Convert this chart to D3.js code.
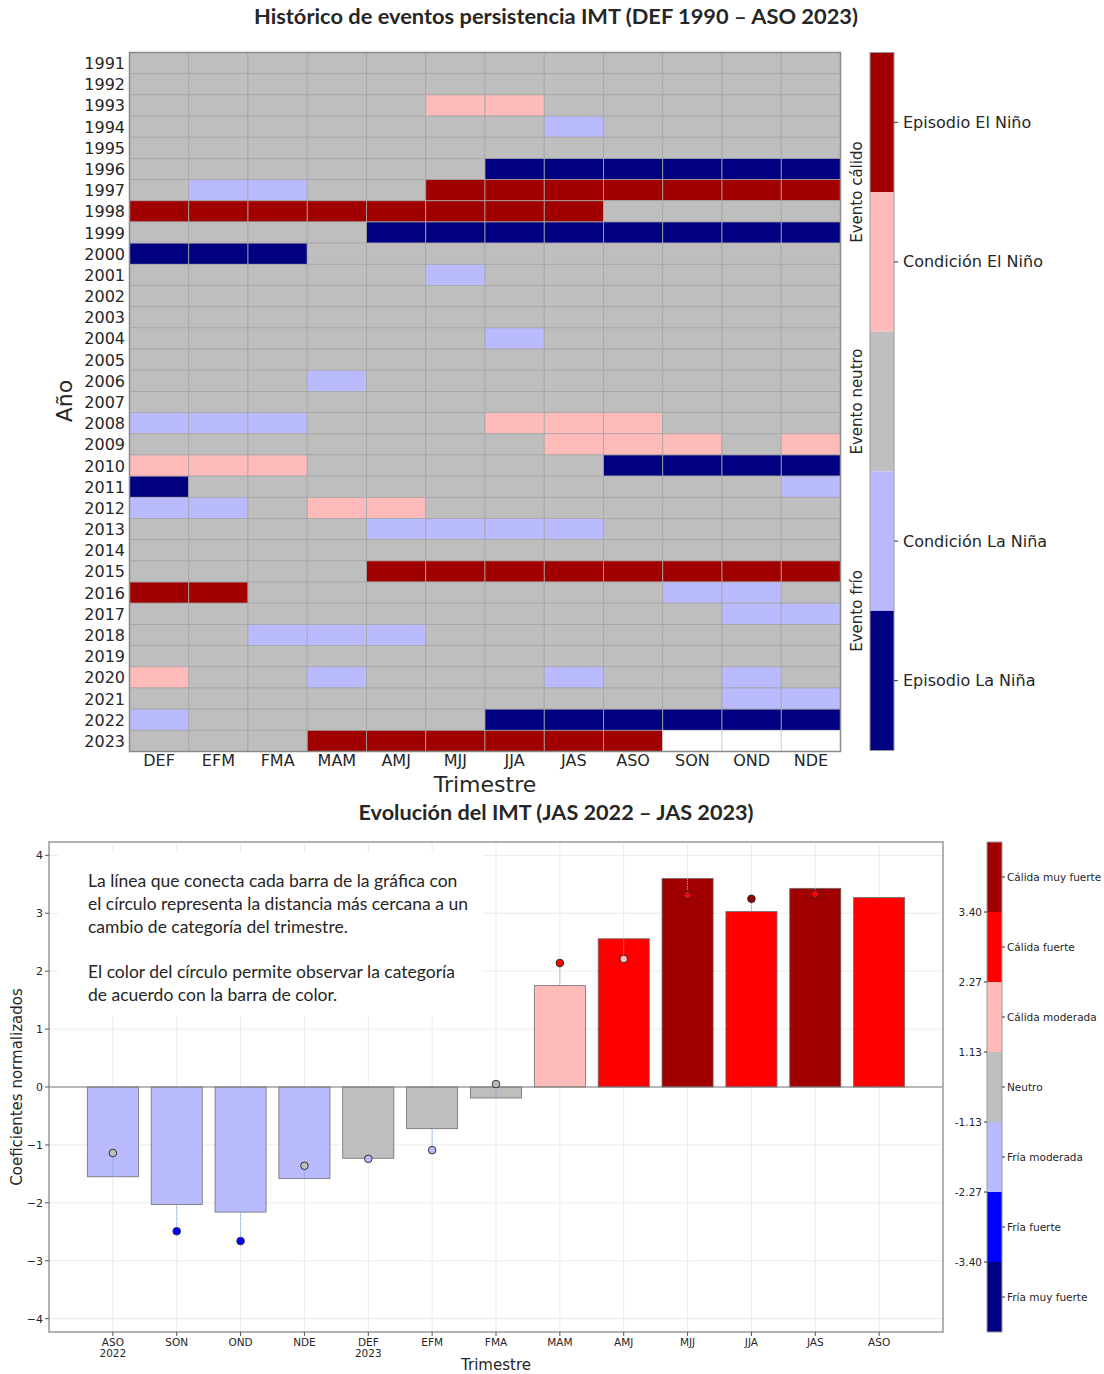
<!DOCTYPE html>
<html>
<head>
<meta charset="utf-8">
<script src="https://d3js.org/d3.v7.min.js"></script>
<style>
  body { margin: 0; background: #fff; }
  svg text { fill: #262626; }
</style>
</head>
<body>
<div id="chart"></div>
<script>
// ---- data: histórico de persistencia ----
var trimestres = ["DEF", "EFM", "FMA", "MAM", "AMJ", "MJJ", "JJA", "JAS", "ASO", "SON", "OND", "NDE"];
var anios = ["1991", "1992", "1993", "1994", "1995", "1996", "1997", "1998", "1999", "2000", "2001",
    "2002", "2003", "2004", "2005", "2006", "2007", "2008", "2009", "2010", "2011", "2012",
    "2013", "2014", "2015", "2016", "2017", "2018", "2019", "2020", "2021", "2022", "2023"];
// N neutro, c condición El Niño, E episodio El Niño, l condición La Niña, L episodio La Niña, - sin dato
var eventos = [
    "NNNNNNNNNNNN", "NNNNNNNNNNNN", "NNNNNccNNNNN", "NNNNNNNlNNNN", "NNNNNNNNNNNN",
    "NNNNNNLLLLLL", "NllNNEEEEEEE", "EEEEEEEENNNN", "NNNNLLLLLLLL", "LLLNNNNNNNNN",
    "NNNNNlNNNNNN", "NNNNNNNNNNNN", "NNNNNNNNNNNN", "NNNNNNlNNNNN", "NNNNNNNNNNNN",
    "NNNlNNNNNNNN", "NNNNNNNNNNNN", "lllNNNcccNNN", "NNNNNNNcccNc", "cccNNNNNLLLL",
    "LNNNNNNNNNNl", "llNccNNNNNNN", "NNNNllllNNNN", "NNNNNNNNNNNN", "NNNNEEEEEEEE",
    "EENNNNNNNllN", "NNNNNNNNNNll", "NNlllNNNNNNN", "NNNNNNNNNNNN", "cNNlNNNlNNlN",
    "NNNNNNNNNNll", "lNNNNNLLLLLL", "NNNEEEEEE---"
];
var codigosEvento = ["E", "c", "N", "l", "L"];
var etiquetasEvento = ["Episodio El Niño", "Condición El Niño", "", "Condición La Niña", "Episodio La Niña"];
var coloresEvento = ["#a00000", "#ffbaba", "#bebebe", "#babaff", "#000080"];

// ---- data: evolución del IMT ----
var trimImt = ["ASO|2022", "SON", "OND", "NDE", "DEF|2023", "EFM", "FMA", "MAM", "AMJ", "MJJ", "JJA", "JAS", "ASO"];
var valoresImt = [-1.55, -2.03, -2.16, -1.58, -1.23, -0.72, -0.19, 1.75, 2.56, 3.60, 3.03, 3.43, 3.27];
var catBarra = [2, 2, 2, 2, 3, 3, 3, 4, 5, 6, 5, 6, 5];
var valoresCirculo = [-1.14, -2.49, -2.66, -1.36, -1.24, -1.09, 0.05, 2.14, 2.21, 3.31, 3.25, 3.33, null];
var catCirculo = [3, 1, 1, 3, 2, 2, 3, 5, 4, 5, 6, 5, null];
var categoriasImt = ["Fría muy fuerte", "Fría fuerte", "Fría moderada", "Neutro", "Cálida moderada", "Cálida fuerte", "Cálida muy fuerte"];
var coloresImt = ["#000080", "#0000ff", "#babaff", "#bebebe", "#ffbaba", "#ff0000", "#a00000"];
var umbrales = ["-3.40", "-2.27", "-1.13", "1.13", "2.27", "3.40"];
var ticksY = [-4, -3, -2, -1, 0, 1, 2, 3, 4];

var svg = d3.select("#chart").append("svg")
    .attr("width", 1104)
    .attr("height", 1374);

var tickFont = "'DejaVu Sans', sans-serif";
var titleFont = "Lato, 'Open Sans', sans-serif";

// ================= heatmap =================
svg.append("text")
    .attr("x", 556).attr("y", 24)
    .attr("text-anchor", "middle")
    .attr("font-family", titleFont)
    .attr("font-weight", "bold")
    .attr("font-size", "20px")
    .attr("textLength", 604)
    .attr("lengthAdjust", "spacingAndGlyphs")
    .text("Histórico de eventos persistencia IMT (DEF 1990 – ASO 2023)");

var hx = d3.scaleBand().domain(trimestres).range([129.5, 840.5]);
var hy = d3.scaleBand().domain(anios).range([52.5, 751.5]);
var colorEvento = d3.scaleOrdinal().domain(codigosEvento).range(coloresEvento);

var celdas = [];
eventos.forEach(function(fila, i) {
    fila.split("").forEach(function(c, j) {
        celdas.push({anio: anios[i], trim: trimestres[j], code: c});
    });
});

svg.append("g").selectAll("rect")
    .data(celdas)
    .enter()
    .append("rect")
    .attr("x", function(d) { return hx(d.trim); })
    .attr("y", function(d) { return hy(d.anio); })
    .attr("width", hx.bandwidth())
    .attr("height", hy.bandwidth())
    .attr("fill", function(d) { return d.code === "-" ? "#ffffff" : colorEvento(d.code); })
    .attr("stroke", function(d) { return d.code === "-" ? "#cfcfcf" : "#a6a6a6"; })
    .attr("stroke-width", 0.8);

svg.append("rect")
    .attr("x", 129.5).attr("y", 52.5)
    .attr("width", 711).attr("height", 699)
    .attr("fill", "none")
    .attr("stroke", "#8a8a8a")
    .attr("stroke-width", 1.5);

svg.append("g").selectAll("text")
    .data(anios)
    .enter()
    .append("text")
    .attr("x", 125)
    .attr("y", function(d) { return hy(d) + hy.bandwidth() / 2 + 6; })
    .attr("text-anchor", "end")
    .attr("font-family", tickFont)
    .attr("font-size", "16px")
    .text(function(d) { return d; });

svg.append("g").selectAll("text")
    .data(trimestres)
    .enter()
    .append("text")
    .attr("x", function(d) { return hx(d) + hx.bandwidth() / 2; })
    .attr("y", 766)
    .attr("text-anchor", "middle")
    .attr("font-family", tickFont)
    .attr("font-size", "16px")
    .text(function(d) { return d; });

svg.append("text")
    .attr("transform", "translate(72,401) rotate(-90)")
    .attr("text-anchor", "middle")
    .attr("font-family", tickFont)
    .attr("font-size", "22px")
    .text("Año");

svg.append("text")
    .attr("x", 485).attr("y", 792)
    .attr("text-anchor", "middle")
    .attr("font-family", tickFont)
    .attr("font-size", "22px")
    .text("Trimestre");

// colorbar de eventos
var cb1 = d3.scaleBand().domain(codigosEvento).range([52.5, 750.5]);
var gcb1 = svg.append("g");
gcb1.selectAll("rect")
    .data(codigosEvento)
    .enter()
    .append("rect")
    .attr("x", 870).attr("y", function(d) { return cb1(d); })
    .attr("width", 24).attr("height", cb1.bandwidth())
    .attr("fill", function(d) { return colorEvento(d); });
gcb1.append("rect")
    .attr("x", 870).attr("y", 52.5).attr("width", 24).attr("height", 698)
    .attr("fill", "none").attr("stroke", "#999").attr("stroke-width", 1);

codigosEvento.forEach(function(c, i) {
    if (!etiquetasEvento[i]) return;
    var yc = cb1(c) + cb1.bandwidth() / 2;
    gcb1.append("line")
        .attr("x1", 894).attr("x2", 898).attr("y1", yc).attr("y2", yc)
        .attr("stroke", "#333");
    gcb1.append("text")
        .attr("x", 903).attr("y", yc + 5.5)
        .attr("font-family", tickFont)
        .attr("font-size", "16px")
        .text(etiquetasEvento[i]);
});

var grupos = [
    {txt: "Evento cálido", y: cb1("c")},
    {txt: "Evento neutro", y: cb1("N") + cb1.bandwidth() / 2},
    {txt: "Evento frío", y: cb1("L")}
];
gcb1.selectAll(".grp")
    .data(grupos)
    .enter()
    .append("text")
    .attr("transform", function(d) { return "translate(862," + d.y + ") rotate(-90)"; })
    .attr("text-anchor", "middle")
    .attr("font-family", tickFont)
    .attr("font-size", "15px")
    .text(function(d) { return d.txt; });

// ================= evolución IMT =================
svg.append("text")
    .attr("x", 556).attr("y", 820)
    .attr("text-anchor", "middle")
    .attr("font-family", titleFont)
    .attr("font-weight", "bold")
    .attr("font-size", "20px")
    .attr("textLength", 395)
    .attr("lengthAdjust", "spacingAndGlyphs")
    .text("Evolución del IMT (JAS 2022 – JAS 2023)");

var bx = d3.scaleLinear().domain([-1, 13]).range([49, 943]);
var by = d3.scaleLinear().domain([-4.23, 4.23]).range([1332, 842]);
var colorImt = function(i) { return coloresImt[i]; };

var gb = svg.append("g");

// grid
gb.selectAll(".gy")
    .data(ticksY)
    .enter()
    .append("line")
    .attr("x1", 49).attr("x2", 943)
    .attr("y1", function(d) { return by(d); })
    .attr("y2", function(d) { return by(d); })
    .attr("stroke", "#ebebeb");
gb.selectAll(".gx")
    .data(trimImt)
    .enter()
    .append("line")
    .attr("x1", function(d, i) { return bx(i); })
    .attr("x2", function(d, i) { return bx(i); })
    .attr("y1", 842).attr("y2", 1332)
    .attr("stroke", "#ebebeb");

// caja de texto
gb.append("rect")
    .attr("x", 58).attr("y", 852)
    .attr("width", 424).attr("height", 164)
    .attr("fill", "#fff");

var nota = ["La línea que conecta cada barra de la gráfica con",
    "el círculo representa la distancia más cercana a un",
    "cambio de categoría del trimestre.",
    "",
    "El color del círculo permite observar la categoría",
    "de acuerdo con la barra de color."];
gb.selectAll(".nota")
    .data(nota)
    .enter()
    .append("text")
    .attr("x", 88)
    .attr("y", function(d, i) { return 887 + i * 22.8; })
    .attr("font-family", titleFont)
    .attr("font-size", "17.5px")
    .attr("fill", "#111")
    .text(function(d) { return d; });

// barras
var barW = bx(0.4) - bx(-0.4);
gb.selectAll(".bar")
    .data(valoresImt)
    .enter()
    .append("rect")
    .attr("x", function(d, i) { return bx(i) - barW / 2; })
    .attr("y", function(d) { return by(Math.max(0, d)); })
    .attr("width", barW)
    .attr("height", function(d) { return Math.abs(by(d) - by(0)); })
    .attr("fill", function(d, i) { return colorImt(catBarra[i]); })
    .attr("stroke", "#6f6f6f")
    .attr("stroke-width", 0.8);

// linea cero
gb.append("line")
    .attr("x1", 49).attr("x2", 943)
    .attr("y1", by(0)).attr("y2", by(0))
    .attr("stroke", "#7a7a7a").attr("stroke-width", 1.2);

// lineas barra-circulo
var puntos = [];
valoresCirculo.forEach(function(v, i) {
    if (v !== null) puntos.push({i: i, v: v, bar: valoresImt[i], cat: catCirculo[i]});
});
gb.selectAll(".con")
    .data(puntos)
    .enter()
    .append("line")
    .attr("x1", function(d) { return bx(d.i); })
    .attr("x2", function(d) { return bx(d.i); })
    .attr("y1", function(d) { return by(d.bar); })
    .attr("y2", function(d) { return by(d.v); })
    .attr("stroke", "#7fa9d6")
    .attr("stroke-width", 1)
    .attr("stroke-dasharray", "1.5,1");

gb.selectAll(".pt")
    .data(puntos)
    .enter()
    .append("circle")
    .attr("cx", function(d) { return bx(d.i); })
    .attr("cy", function(d) { return by(d.v); })
    .attr("r", 3.8)
    .attr("fill", function(d) { return colorImt(d.cat); })
    .attr("stroke", "#222")
    .attr("stroke-width", 0.9);

// marco
gb.append("rect")
    .attr("x", 49).attr("y", 842)
    .attr("width", 894).attr("height", 490)
    .attr("fill", "none")
    .attr("stroke", "#999")
    .attr("stroke-width", 1.5);

// ticks y
var yTicks = gb.selectAll(".yt")
    .data(ticksY)
    .enter()
    .append("g")
    .attr("transform", function(d) { return "translate(49," + by(d) + ")"; });
yTicks.append("line").attr("x1", -4).attr("x2", 0).attr("stroke", "#555");
yTicks.append("text")
    .attr("x", -6).attr("y", 4)
    .attr("text-anchor", "end")
    .attr("font-family", tickFont)
    .attr("font-size", "11px")
    .text(function(d) { return d < 0 ? "\u2212" + Math.abs(d) : d; });

// ticks x
var xTicks = gb.selectAll(".xt")
    .data(trimImt)
    .enter()
    .append("g")
    .attr("transform", function(d, i) { return "translate(" + bx(i) + ",1332)"; });
xTicks.append("line").attr("y1", 0).attr("y2", 4).attr("stroke", "#555");
xTicks.append("text")
    .attr("y", 14)
    .attr("text-anchor", "middle")
    .attr("font-family", tickFont)
    .attr("font-size", "10.5px")
    .each(function(d) {
        var partes = d.split("|");
        var t = d3.select(this);
        partes.forEach(function(p, k) {
            t.append("tspan").attr("x", 0).attr("dy", k === 0 ? 0 : 11).text(p);
        });
    });

svg.append("text")
    .attr("x", 496).attr("y", 1370)
    .attr("text-anchor", "middle")
    .attr("font-family", tickFont)
    .attr("font-size", "15px")
    .text("Trimestre");

svg.append("text")
    .attr("transform", "translate(22,1087) rotate(-90)")
    .attr("text-anchor", "middle")
    .attr("font-family", tickFont)
    .attr("font-size", "15px")
    .text("Coeficientes normalizados");

// colorbar IMT
var cb2 = d3.scaleBand().domain(d3.range(categoriasImt.length).reverse()).range([842, 1332]);
var gcb2 = svg.append("g");
gcb2.selectAll("rect")
    .data(d3.range(categoriasImt.length))
    .enter()
    .append("rect")
    .attr("x", 987).attr("y", function(d) { return cb2(d); })
    .attr("width", 15).attr("height", cb2.bandwidth())
    .attr("fill", function(d) { return coloresImt[d]; });
gcb2.append("rect")
    .attr("x", 987).attr("y", 842).attr("width", 15).attr("height", 490)
    .attr("fill", "none").attr("stroke", "#999").attr("stroke-width", 1);

categoriasImt.forEach(function(c, i) {
    var yc = cb2(i) + cb2.bandwidth() / 2;
    gcb2.append("line")
        .attr("x1", 1002).attr("x2", 1005).attr("y1", yc).attr("y2", yc)
        .attr("stroke", "#333");
    gcb2.append("text")
        .attr("x", 1007).attr("y", yc + 4)
        .attr("font-family", tickFont)
        .attr("font-size", "10.5px")
        .text(c);
});
umbrales.forEach(function(u, i) {
    var yb = cb2(i);
    gcb2.append("line")
        .attr("x1", 984).attr("x2", 987).attr("y1", yb).attr("y2", yb)
        .attr("stroke", "#333");
    gcb2.append("text")
        .attr("x", 982).attr("y", yb + 4)
        .attr("text-anchor", "end")
        .attr("font-family", tickFont)
        .attr("font-size", "10.5px")
        .text(u);
});
</script>
</body>
</html>
